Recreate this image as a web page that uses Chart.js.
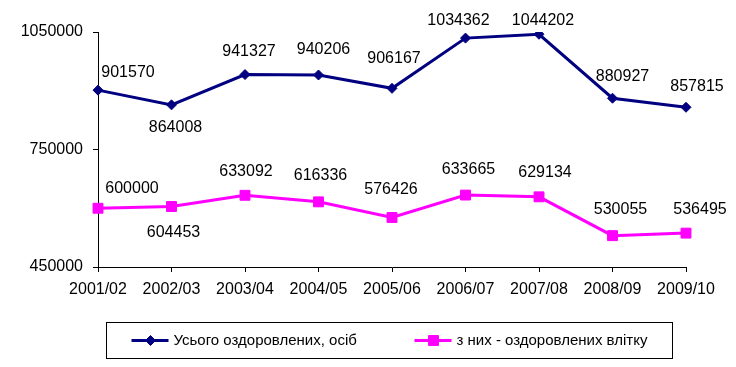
<!DOCTYPE html>
<html>
<head>
<meta charset="utf-8">
<title>Оздоровлення</title>
<script src="https://cdn.jsdelivr.net/npm/chart.js@4/dist/chart.umd.min.js"></script>
<style>
  html, body { margin: 0; padding: 0; background: #fff; }
  #wrap { width: 736px; height: 367px; }
</style>
</head>
<body>
<div id="wrap"><canvas id="chart" width="736" height="367"></canvas></div>
<script>
// Chart data
const years = ['2001/02', '2002/03', '2003/04', '2004/05', '2005/06', '2006/07', '2007/08', '2008/09', '2009/10'];
const totalHealed = [901570, 864008, 941327, 940206, 906167, 1034362, 1044202, 880927, 857815];
const summerHealed = [600000, 604453, 633092, 616336, 576426, 633665, 629134, 530055, 536495];
const yTicks = [450000, 750000, 1050000];
const seriesNames = ['Усього оздоровлених, осіб', 'з них - оздоровлених влітку'];

const FONT = '"Liberation Sans", Arial, sans-serif';

// Where each value label sits relative to its point (dx, dy in px)
const labelShift = [
    [[30, -18], [4, 23], [4, -23], [5, -25], [2, -30], [-7, -18], [4, -14], [10, -22], [11, -21]],
    [[34, -20], [2, 26], [1, -24], [2, -26], [-1, -28], [3, -25], [6, -24], [8, -26], [14, -24]]
];

// Draw the value next to each point
const pointLabels = {
    id: 'pointLabels',
    afterDatasetsDraw(chart) {
        const ctx = chart.ctx;
        ctx.save();
        ctx.font = '16px ' + FONT;
        ctx.fillStyle = '#000';
        ctx.textAlign = 'center';
        ctx.textBaseline = 'middle';
        chart.data.datasets.forEach((ds, di) => {
            chart.getDatasetMeta(di).data.forEach((pt, i) => {
                const s = labelShift[di][i];
                ctx.fillText(String(ds.data[i]), pt.x + s[0], pt.y + s[1]);
            });
        });
        ctx.restore();
    }
};

// Marker shape for the legend
function drawMarker(ctx, style, x, y, r) {
    ctx.beginPath();
    if (style === 'rectRot') {
        ctx.moveTo(x - r, y);
        ctx.lineTo(x, y - r);
        ctx.lineTo(x + r, y);
        ctx.lineTo(x, y + r);
    } else {
        const h = r * Math.SQRT1_2;
        ctx.rect(x - h, y - h, 2 * h, 2 * h);
    }
    ctx.closePath();
    ctx.fill();
    ctx.stroke();
}

// Boxed legend under the x axis
const boxLegend = {
    id: 'boxLegend',
    afterDraw(chart) {
        const ctx = chart.ctx;
        const area = chart.chartArea;
        const left = Math.round(area.left + 8) + 0.5;
        const top = Math.round(area.bottom + 55) + 0.5;
        const w = 566, h = 36;
        const itemX = [25, 308];

        ctx.save();
        ctx.strokeStyle = '#000';
        ctx.lineWidth = 1;
        ctx.strokeRect(left, top, w, h);

        const cy = top + h / 2;
        ctx.font = '15px ' + FONT;
        ctx.textAlign = 'left';
        ctx.textBaseline = 'middle';
        chart.data.datasets.forEach((ds, i) => {
            const x0 = left + itemX[i];
            ctx.strokeStyle = ds.borderColor;
            ctx.fillStyle = ds.borderColor;
            ctx.lineWidth = 3;
            ctx.beginPath();
            ctx.moveTo(x0, cy);
            ctx.lineTo(x0 + 37, cy);
            ctx.stroke();
            ctx.lineWidth = 1;
            drawMarker(ctx, ds.pointStyle, x0 + 19, cy, ds.pointRadius);
            ctx.fillStyle = '#000';
            ctx.fillText(ds.label, x0 + 42, cy);
        });
        ctx.restore();
    }
};

const ctx = document.getElementById('chart').getContext('2d');
const chart = new Chart(ctx, {
    type: 'line',
    data: {
        labels: years,
        datasets: [{
            label: seriesNames[0],
            data: totalHealed,
            borderColor: '#000080',
            backgroundColor: '#000080',
            borderWidth: 3,
            pointStyle: 'rectRot',
            pointRadius: 5,
            pointBorderWidth: 1,
            pointBackgroundColor: '#000080',
            pointBorderColor: '#000080',
            tension: 0
        }, {
            label: seriesNames[1],
            data: summerHealed,
            borderColor: '#FF00FF',
            backgroundColor: '#FF00FF',
            borderWidth: 3,
            pointStyle: 'rect',
            pointRadius: 7,
            pointBorderWidth: 1,
            pointBackgroundColor: '#FF00FF',
            pointBorderColor: '#FF00FF',
            tension: 0
        }]
    },
    options: {
        responsive: false,
        animation: false,
        devicePixelRatio: 1,
        layout: {
            padding: { left: 0, right: 50, top: 32, bottom: 70 }
        },
        scales: {
            x: {
                offset: false,
                grid: {
                    offset: false,
                    drawOnChartArea: false,
                    color: '#000',
                    tickLength: 5
                },
                border: { color: '#000', width: 1 },
                ticks: {
                    color: '#000',
                    font: { family: FONT, size: 16 },
                    padding: 8,
                    maxRotation: 0,
                    autoSkip: false
                },
                afterFit(scale) { scale.height = 30; }
            },
            y: {
                min: yTicks[0],
                max: yTicks[yTicks.length - 1],
                grid: {
                    drawOnChartArea: false,
                    color: '#000',
                    tickLength: 5
                },
                border: { color: '#000', width: 1 },
                ticks: {
                    color: '#000',
                    font: { family: FONT, size: 16 },
                    padding: 10,
                    callback: v => String(v)
                },
                afterBuildTicks(scale) {
                    scale.ticks = yTicks.map(v => ({ value: v }));
                },
                afterFit(scale) { scale.width = 98; }
            }
        },
        plugins: {
            legend: { display: false },
            tooltip: { enabled: false }
        }
    },
    plugins: [pointLabels, boxLegend]
});
</script>
</body>
</html>
